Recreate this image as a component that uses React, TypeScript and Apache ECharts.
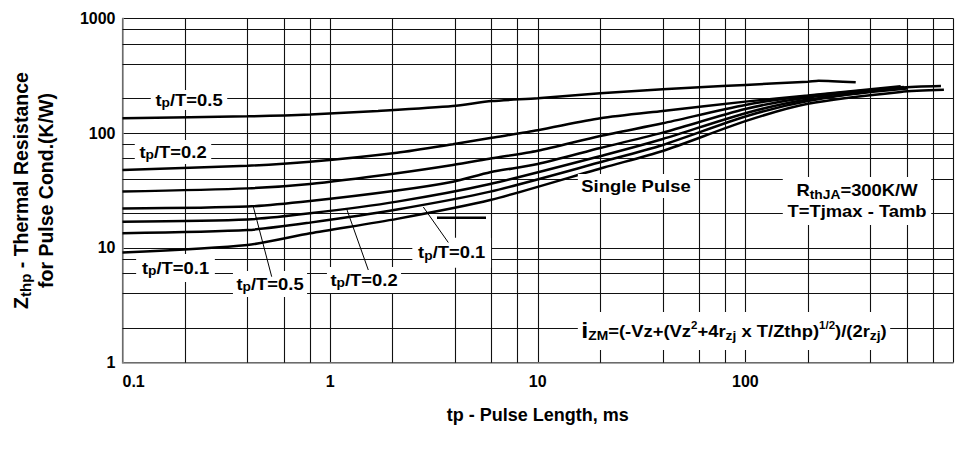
import React, { useEffect, useRef } from 'react';
import * as echarts from 'echarts';

const FONT = '"Liberation Sans", Arial, Helvetica, sans-serif';

// axis ticks
const xTickValues = [0.1, 1, 10, 100];
const xTickLabels = ['0.1', '1', '10', '100'];
const yTickLabels = ['1', '10', '100', '1000'];
const yDecades = [1, 10, 100];
const minorSteps = [2, 4, 6, 8];

// curves: [tp (ms), Zthp (K/W)]
const curveDuty05: [number, number][] = [
  [0.1, 135], [0.4, 140], [0.8, 145], [1.7, 156], [3.9, 172], [6, 190], [10, 201],
  [20, 222], [40, 241], [60, 251], [100, 263], [200, 280], [225, 286], [340, 277],
];
const curveDuty02: [number, number][] = [
  [0.1, 47.7], [0.4, 52], [0.8, 56.3], [2.1, 67.5], [3.9, 80], [6, 91], [10, 106],
  [20, 134.5], [40, 156], [100, 188], [200, 213], [560, 256],
];
const curveDuty01: [number, number][] = [
  [0.1, 31], [0.4, 33], [0.8, 36], [2.1, 44.7], [3.9, 52.7], [6, 60.3], [10, 70.3],
  [20, 94.4], [40, 121.7], [100, 176], [200, 210], [580, 252],
];
const curveLowerA: [number, number][] = [
  [0.1, 22], [0.4, 22.9], [0.8, 25.6], [2.1, 31.6], [3.9, 37.7], [5.9, 45.6], [10, 53.8],
  [20, 74.2], [40, 101], [100, 162], [200, 204], [600, 248],
];
const curveLowerB: [number, number][] = [
  [0.1, 16.9], [0.4, 17.7], [0.8, 20], [2.1, 25.3], [5.9, 36], [21, 64.5], [40, 88.8],
  [100, 149], [200, 196], [600, 244],
];
const curveLowerC: [number, number][] = [
  [0.1, 13.4], [0.4, 14.3], [0.8, 16.6], [2.1, 21.6], [5.9, 30.9], [21, 57.1], [40, 78.8],
  [100, 139.5], [200, 190], [560, 248], [875, 257],
];
const curveSingle: [number, number][] = [
  [0.1, 9.1], [0.4, 10.6], [0.8, 13.4], [2.1, 17.9], [5.9, 26.1], [21, 50.4], [40, 69.8],
  [100, 127], [200, 180], [560, 228], [904, 238],
];

const curves = [curveDuty05, curveDuty02, curveDuty01, curveLowerA, curveLowerB, curveLowerC, curveSingle];

const GRID = '#111';
const AXIS = '#8a8a8a';

function subRich(size: number) {
  return {
    s: { fontSize: size, fontWeight: 'bold', fontFamily: FONT, fill: '#000', verticalAlign: 'bottom' },
    u: { fontSize: 10, fontWeight: 'bold', fontFamily: FONT, fill: '#000', verticalAlign: 'top' },
    i: { fontSize: 22, fontWeight: 'bold', fontFamily: FONT, fill: '#000', verticalAlign: 'bottom' },
  };
}

function label(text: string, x: number, y: number, padding: number[], lineHeight = 18) {
  return {
    type: 'text',
    x,
    y,
    scaleX: 1.15,
    z: 100,
    silent: true,
    style: {
      text,
      fontSize: 16,
      fontWeight: 'bold',
      fontFamily: FONT,
      fill: '#000',
      align: 'center',
      verticalAlign: 'middle',
      lineHeight,
      backgroundColor: '#fff',
      padding,
      rich: subRich(12),
    },
  };
}

function leader(x1: number, y1: number, x2: number, y2: number, w = 1) {
  return {
    type: 'line',
    z: 101,
    silent: true,
    shape: { x1, y1, x2, y2 },
    style: { stroke: '#000', lineWidth: w },
  };
}

export default function App() {
  const ref = useRef<HTMLDivElement>(null);
  useEffect(() => {
    document.body.style.margin = '0';
    if (!ref.current) return;
    const chart = echarts.init(ref.current, null, { renderer: 'svg' });

    const minorX = xTickValues.flatMap((d) => minorSteps.map((m) => d * m));
    const minorY = yDecades.flatMap((d) => minorSteps.map((m) => d * m));

    const option: any = {
      animation: false,
      backgroundColor: '#fff',
      grid: { left: 120, right: -7.3, top: 18.3, bottom: 86.3, containLabel: false },
      xAxis: {
        type: 'log',
        logBase: 10,
        min: 0.1,
        max: 1000,
        axisLine: { show: true, lineStyle: { color: AXIS, width: 1.5 } },
        axisTick: { show: false },
        axisLabel: {
          fontSize: 16,
          fontWeight: 'bold',
          fontFamily: FONT,
          color: '#000',
          margin: 11,
          alignMinLabel: 'left',
          formatter: (v: number) => xTickLabels[Math.round(Math.log10(v)) + 1] ?? '',
        },
        splitLine: { show: true, lineStyle: { color: GRID, width: 1.1 } },
        name: 'tp - Pulse Length, ms',
        nameLocation: 'middle',
        nameGap: 43,
        nameTextStyle: { fontSize: 18, fontWeight: 'bold', fontFamily: FONT, color: '#000' },
      },
      yAxis: {
        type: 'log',
        logBase: 10,
        min: 1,
        max: 1000,
        axisLine: { show: true, lineStyle: { color: AXIS, width: 1.5 } },
        axisTick: { show: false },
        axisLabel: {
          fontSize: 16,
          fontWeight: 'bold',
          fontFamily: FONT,
          color: '#000',
          margin: 7,
          formatter: (v: number) => yTickLabels[Math.round(Math.log10(v))] ?? '',
        },
        splitLine: { show: true, lineStyle: { color: GRID, width: 1.1 } },
        name: 'Z{s|thp} - Thermal Resistance\nfor Pulse Cond.(K/W)',
        nameLocation: 'middle',
        nameGap: 64.5,
        nameTextStyle: {
          fontSize: 19.5,
          fontWeight: 'bold',
          fontFamily: FONT,
          color: '#000',
          lineHeight: 25,
          rich: {
            s: { fontSize: 15, fontWeight: 'bold', fontFamily: FONT, color: '#000', verticalAlign: 'bottom', lineHeight: 25 },
          },
        },
      },
      series: [
        ...curves.map((c) => ({
          type: 'line',
          data: c,
          showSymbol: false,
          smooth: 0.25,
          silent: true,
          z: 10,
          lineStyle: { color: '#000', width: 2.5 },
        })),
        {
          type: 'line',
          data: [],
          silent: true,
          markLine: {
            silent: true,
            animation: false,
            symbol: ['none', 'none'],
            label: { show: false },
            lineStyle: { color: GRID, width: 1.1, type: 'solid' },
            data: [...minorX.map((v) => ({ xAxis: v })), ...minorY.map((v) => ({ yAxis: v }))],
          },
        },
      ],
      graphic: [
        label('t{s|p}/T=0.5', 189, 100, [1, 4]),
        label('t{s|p}/T=0.2', 173, 152, [3, 4]),
        label('t{s|p}/T=0.1', 175.5, 268, [5, 5]),
        label('t{s|p}/T=0.5', 270, 284, [4, 3]),
        label('t{s|p}/T=0.2', 364, 280, [4, 3]),
        label('t{s|p}/T=0.1', 451.7, 252.7, [6, 5]),
        label('Single Pulse', 636, 186, [3, 3]),
        label('R{s|thJA}=300K/W\nT=Tjmax - Tamb', 857, 201, [3, 4], 21),
        label('{i|i}{s|ZM}=(-Vz+(Vz{u|2}+4r{s|zj} x T/Zthp){u|1/2})/(2r{s|zj})', 734, 331, [8, 3], 22),
        leader(253.3, 206.7, 271.7, 276.7),
        leader(346.7, 209, 368.3, 270),
        leader(423.3, 207, 448.3, 242.5),
        leader(437, 217.7, 486, 217.7, 2.5),
      ],
    };

    chart.setOption(option);
    return () => chart.dispose();
  }, []);

  return <div ref={ref} style={{ width: 956, height: 449 }} />;
}
